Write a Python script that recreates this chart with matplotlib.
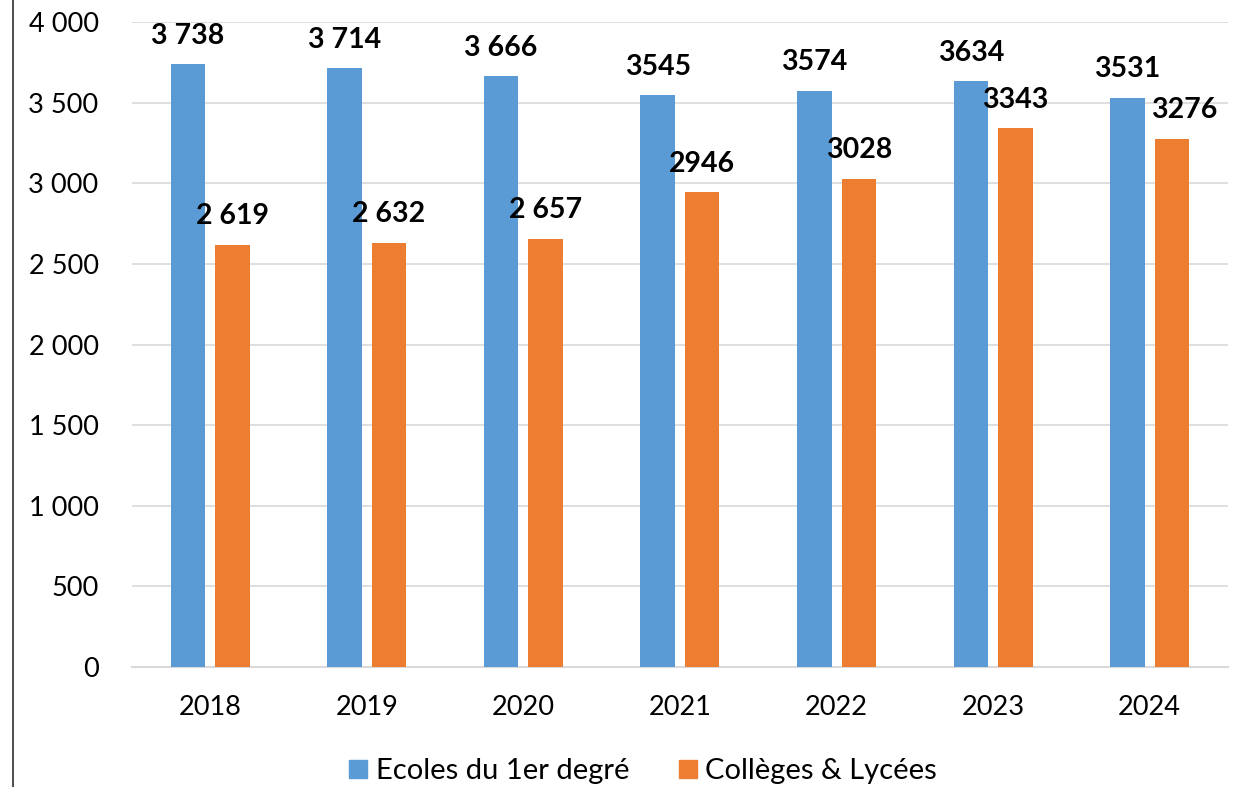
import matplotlib
matplotlib.use("Agg")
import matplotlib.pyplot as plt
from matplotlib.lines import Line2D
import numpy as np

years = ["2018", "2019", "2020", "2021", "2022", "2023", "2024"]
ecoles = [3738, 3714, 3666, 3545, 3574, 3634, 3531]
colleges = [2619, 2632, 2657, 2946, 3028, 3343, 3276]
ecoles_labels = ["3 738", "3 714", "3 666", "3545", "3574", "3634", "3531"]
colleges_labels = ["2 619", "2 632", "2 657", "2946", "3028", "3343", "3276"]
yticks = [0, 500, 1000, 1500, 2000, 2500, 3000, 3500, 4000]
ytick_labels = ["0", "500", "1 000", "1 500", "2 000", "2 500", "3 000", "3 500", "4 000"]
series_names = ["Ecoles du 1er degré", "Collèges & Lycées"]

blue = "#5B9BD5"
orange = "#ED7D31"
plt.rcParams['font.family'] = ['Lato', 'DejaVu Sans']

fig = plt.figure(figsize=(12.53, 7.87), dpi=100)
ax = fig.add_axes([0.1053, 0.1525, 0.8747, 0.8195])

x = np.arange(len(years))
w = 0.22
off = 0.142
b1 = ax.bar(x - off, ecoles, w, color=blue, zorder=3)
b2 = ax.bar(x + off, colleges, w, color=orange, zorder=3)

for i, (r, lab) in enumerate(zip(b1, ecoles_labels)):
    ax.annotate(lab, (r.get_x() + r.get_width() / 2, r.get_height()),
                xytext=(0, 11), textcoords="offset points", ha="center", va="bottom",
                fontsize=20.5, fontweight="bold", color="black", zorder=5)
for i, (r, lab) in enumerate(zip(b2, colleges_labels)):
    dx = 9 if i == len(years) - 1 else 0
    ax.annotate(lab, (r.get_x() + r.get_width() / 2, r.get_height()),
                xytext=(dx, 11), textcoords="offset points", ha="center", va="bottom",
                fontsize=20.5, fontweight="bold", color="black", zorder=5)

ax.set_xlim(-0.5, len(years) - 0.5)
ax.set_ylim(0, 4000)
ax.set_yticks(yticks)
ax.set_yticklabels(ytick_labels)
ax.set_xticks(x)
ax.set_xticklabels(years)
ax.tick_params(axis="y", length=0, pad=24, labelsize=19.5)
ax.tick_params(axis="x", length=0, pad=20, labelsize=19.5)
ax.grid(axis="y", color="#d9d9d9", linewidth=1.2, zorder=0)
for s in ["top", "right", "left"]:
    ax.spines[s].set_visible(False)
ax.spines["bottom"].set_color("#d9d9d9")
ax.spines["bottom"].set_linewidth(1.5)

handles = [Line2D([], [], marker="s", linestyle="none", markersize=12.5, color=blue),
           Line2D([], [], marker="s", linestyle="none", markersize=12.5, color=orange)]
fig.legend(handles, series_names, loc="center", bbox_to_anchor=(0.511, 0.02),
           ncol=2, frameon=False, fontsize=21, handletextpad=0.1, columnspacing=1.5,
           handlelength=1.0, borderpad=0)

fig.add_artist(Line2D([0.0104, 0.0104], [0, 1], color="#404040", linewidth=1.3,
                      transform=fig.transFigure))

fig.savefig("out.png", dpi=100)
